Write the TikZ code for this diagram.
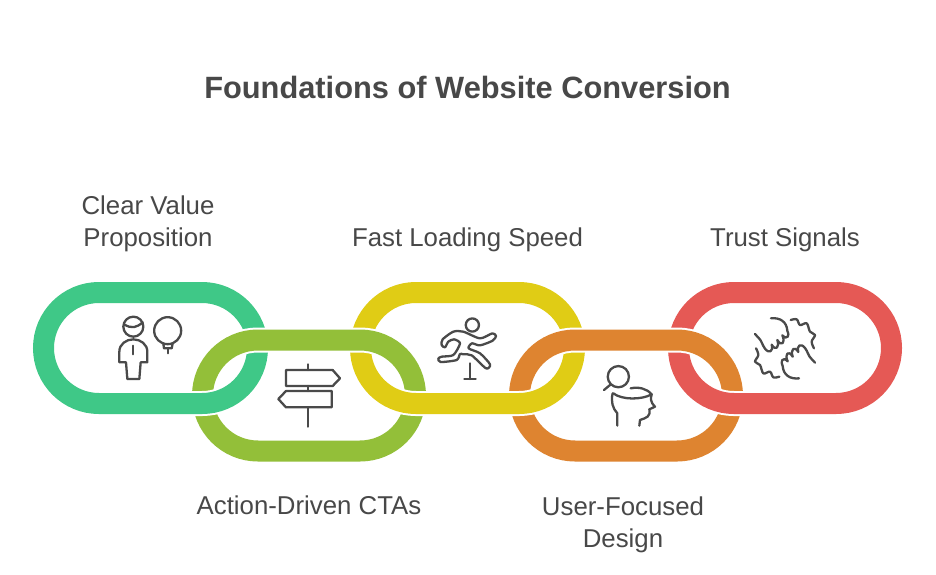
\documentclass[tikz,border=0pt]{standalone}
\usepackage{fontspec}
\setmainfont{Liberation Sans}
\definecolor{cgreen}{HTML}{3FC887}
\definecolor{clime}{HTML}{93BF39}
\definecolor{cyellow}{HTML}{E0CC15}
\definecolor{corange}{HTML}{DE8430}
\definecolor{cred}{HTML}{E55955}
\definecolor{ctext}{HTML}{484848}
\definecolor{cicon}{HTML}{4A4A4A}
\tikzset{
  titletext/.style={text=ctext,font=\fontsize{30.8}{36}\selectfont\bfseries,inner sep=0pt},
  labeltext/.style={text=ctext,font=\fontsize{25.8}{32}\selectfont,align=center,inner sep=0pt},
  iconline/.style={draw=cicon,line width=2.3pt,line cap=round,line join=round},
  iconzoom/.style={x=0.33333pt,y=-0.33333pt},
}
% \ringpath{left}{top}{right}{bottom} : centre line of a chain link
\newcommand{\ringpath}[4]{(#1+55.5,#2) -- (#3-55.5,#2) arc[start angle=90,end angle=-90,radius=55.5pt] -- (#1+55.5,#4) arc[start angle=-90,end angle=-270,radius=55.5pt] -- cycle}
\newcommand{\ringplain}[5]{\draw[#5,line width=21pt] \ringpath{#1}{#2}{#3}{#4};}
\newcommand{\ringhalo}[5]{%
  \draw[white,line width=25pt] \ringpath{#1}{#2}{#3}{#4};
  \draw[#5,line width=21pt] \ringpath{#1}{#2}{#3}{#4};}
\newcommand{\handshape}[1]{%
  \draw[iconline,#1] (78,25) .. controls (105,22) and (125,35) .. (127,62)
    .. controls (135,75) and (127,92) .. (112,76)
    .. controls (122,97) and (110,112) .. (97,90)
    .. controls (104,112) and (92,124) .. (80,104)
    .. controls (86,124) and (72,132) .. (60,116)
    .. controls (52,106) and (50,92) .. (42,85) -- (30,72);
  \draw[iconline,#1] plot[smooth,tension=0.6] coordinates {(137,30) (155,28) (165,45) (185,40) (195,65) (210,75) (200,95) (207,115)};}
\begin{document}
\begin{tikzpicture}[x=1pt,y=-1pt]
\useasboundingbox (0,0) rectangle (936,574);
\fill[white] (0,0) rectangle (936,574);

% upper links
\ringplain{43.5}{292.5}{257.5}{403.5}{cgreen}
\ringplain{360.5}{292.5}{574.5}{403.5}{cyellow}
\ringplain{678.5}{292.5}{891.5}{403.5}{cred}
% lower links pass over the upper arms
\ringhalo{202.5}{340}{415.5}{451}{clime}
\ringhalo{519.5}{340}{732.5}{451}{corange}
% upper links' lower halves pass over the lower links
\begin{scope}
  \clip (0,372) rectangle (936,574);
  \ringhalo{43.5}{292.5}{257.5}{403.5}{cgreen}
  \ringhalo{360.5}{292.5}{574.5}{403.5}{cyellow}
  \ringhalo{678.5}{292.5}{891.5}{403.5}{cred}
\end{scope}

% title and labels
\node[titletext] (title) at (467.5,87.5) {Foundations of Website Conversion};
\node[labeltext] (lab1) at (148,223.5) {Clear Value\\Proposition};
\node[labeltext] (lab2) at (309,505.5) {Action-Driven CTAs};
\node[labeltext] (lab3) at (467.5,239.5) {Fast Loading Speed};
\node[labeltext] (lab4) at (623,524.5) {User-Focused\\Design};
\node[labeltext] (lab5) at (785,239.5) {Trust Signals};

% person and bulb
\begin{scope}[shift={(100,305)},iconzoom]
  \draw[iconline] (100,65) circle[radius=10pt];
  \draw[iconline] (72,58) .. controls (95,72) and (110,68) .. (128,52);
  \draw[iconline] (58,172) -- (58,140) .. controls (58,118) and (78,103) .. (100,103)
     .. controls (122,103) and (142,118) .. (142,140) -- (142,172) -- (122,172) -- (118,222) -- (82,222) -- (78,172) -- cycle;
  \draw[iconline] (100,122) -- (100,148);
  \draw[iconline] (203,77) circle[radius=13.5pt];
  \draw[iconline] (190,115) -- (192,130) -- (215,130) -- (218,115);
  \draw[iconline] (203,130) -- (203,145);
\end{scope}

% signpost
\begin{scope}[shift={(270,355)},iconzoom]
  \draw[iconline] (113,28) -- (113,45);
  \draw[iconline] (48,45) -- (188,45) -- (210,70) -- (188,93) -- (48,93) -- cycle;
  \draw[iconline] (113,93) -- (113,108);
  \draw[iconline] (185,108) -- (185,157) -- (48,157) -- (25,132) -- (48,108) -- cycle;
  \draw[iconline] (113,157) -- (113,215);
\end{scope}

% runner and hurdle
\begin{scope}[shift={(430,310)},iconzoom]
  \draw[iconline] (127,45) circle[radius=6.6pt];
  \draw[iconline] plot[smooth cycle,tension=0.45] coordinates {(38,88) (70,65) (100,65) (150,85) (187,70) (198,78) (188,92) (150,106) (126,100) (116,115) (150,130) (180,163) (168,175) (125,136) (100,133) (90,132) (80,150) (32,156) (25,146) (35,140) (70,135) (90,100) (72,88) (55,95) (45,112) (35,105)};
  \draw[iconline] (120,160) -- (120,207);
  \draw[iconline] (103,207) -- (137,207);
\end{scope}

% head and magnifier
\begin{scope}[shift={(590,355)},iconzoom]
  \draw[iconline] (85,65) circle[radius=10.6pt];
  \draw[iconline] (60,90) -- (42,105);
  \draw[iconline] (70,115) .. controls (95,135) and (155,135) .. (185,118);
  \draw[iconline] (122,100) .. controls (145,95) and (170,100) .. (185,118) .. controls (182,130) and (180,140) .. (195,155) -- (178,163) .. controls (182,185) and (170,188) .. (150,195) -- (148,212);
  \draw[iconline] (68,115) .. controls (62,140) and (68,160) .. (82,175) -- (82,212);
\end{scope}

% clasped hands
\begin{scope}[shift={(745,310)},iconzoom]
  \handshape{}
  \handshape{rotate around={180:(120,115)}}
\end{scope}
\end{tikzpicture}
\end{document}
